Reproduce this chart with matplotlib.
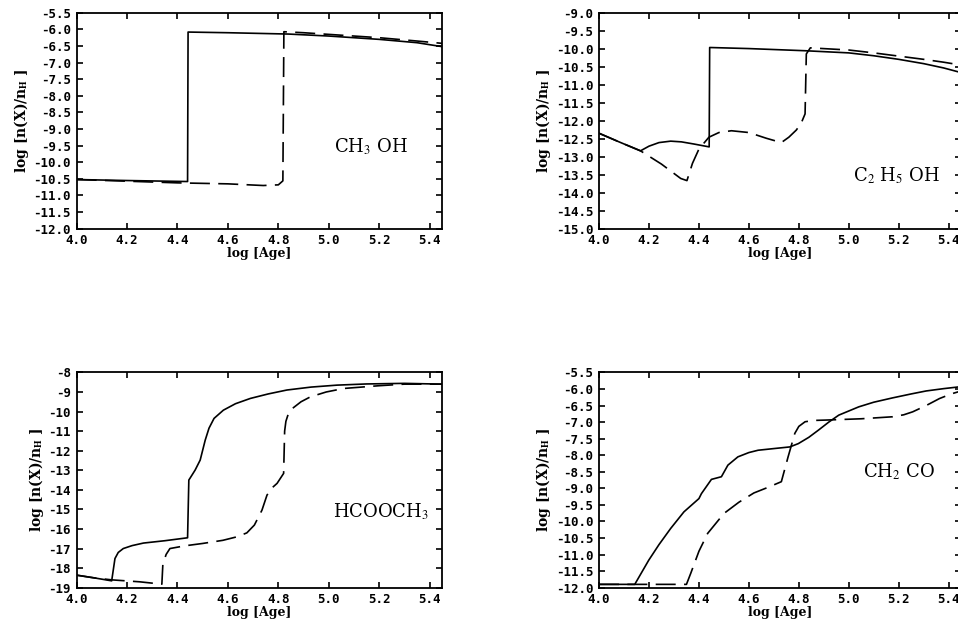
import numpy as np
import matplotlib
matplotlib.use('Agg')
import matplotlib.pyplot as plt
from matplotlib.ticker import FormatStrFormatter, MultipleLocator

# CH3 OH
ch3oh_x_sol = [4.0, 4.2, 4.44, 4.442, 4.6, 4.84, 5.0, 5.2, 5.35, 5.45]
ch3oh_y_sol = [-10.52, -10.55, -10.58, -6.08, -6.1, -6.14, -6.2, -6.3, -6.4, -6.52]
ch3oh_x_das = [4.0, 4.2, 4.4, 4.6, 4.74, 4.8, 4.818, 4.822, 4.9, 5.0, 5.2, 5.35, 5.45]
ch3oh_y_das = [-10.52, -10.57, -10.62, -10.65, -10.70, -10.68, -10.56, -6.07, -6.1, -6.15, -6.25, -6.35, -6.42]

# C2 H5 OH
c2h5oh_x_sol = [4.0, 4.08, 4.166, 4.2, 4.24, 4.287, 4.33, 4.38, 4.441, 4.443, 4.6, 4.825, 5.0, 5.1, 5.2, 5.3, 5.38,
                5.45]
c2h5oh_y_sol = [-12.34, -12.58, -12.83, -12.7, -12.6, -12.56, -12.58, -12.64, -12.72, -9.95, -9.98, -10.04, -10.1,
                -10.18, -10.28, -10.4, -10.52, -10.65]
c2h5oh_x_das = [4.0, 4.08, 4.166, 4.25, 4.327, 4.352, 4.374, 4.40, 4.44, 4.48, 4.53, 4.6, 4.67, 4.73, 4.76, 4.79,
                4.81, 4.825, 4.83, 4.846, 5.0, 5.1, 5.2, 5.3, 5.38, 5.45]
c2h5oh_y_das = [-12.34, -12.58, -12.83, -13.2, -13.6, -13.66, -13.18, -12.78, -12.45, -12.32, -12.27, -12.32, -12.48,
                -12.6, -12.45, -12.25, -12.05, -11.8, -10.13, -9.96, -10.02, -10.1, -10.19, -10.28, -10.36, -10.44]

# HCOOCH3
hcooch3_x_sol = [4.0, 4.07, 4.139, 4.152, 4.165, 4.185, 4.22, 4.265, 4.35, 4.44, 4.445, 4.45, 4.47, 4.49, 4.51,
                 4.525, 4.545, 4.582, 4.63, 4.689, 4.76, 4.834, 4.93, 5.033, 5.15, 5.3, 5.45]
hcooch3_y_sol = [-18.36, -18.5, -18.65, -17.51, -17.2, -17.0, -16.85, -16.72, -16.6, -16.45, -13.5, -13.4, -12.99,
                 -12.48, -11.46, -10.85, -10.35, -9.93, -9.6, -9.33, -9.1, -8.9, -8.75, -8.65, -8.59, -8.56, -8.6]
hcooch3_x_das = [4.0, 4.07, 4.139, 4.25, 4.338, 4.342, 4.355, 4.37, 4.43, 4.5, 4.58, 4.636, 4.675, 4.705, 4.735,
                 4.755, 4.775, 4.795, 4.821, 4.825, 4.83, 4.84, 4.86, 4.89, 4.927, 4.99, 5.06, 5.2, 5.3, 5.45]
hcooch3_y_das = [-18.36, -18.5, -18.6, -18.7, -18.82, -17.8, -17.3, -17.0, -16.86, -16.74, -16.58, -16.4, -16.2,
                 -15.8, -15.04, -14.27, -13.9, -13.67, -13.16, -11.0, -10.5, -10.1, -9.8, -9.5, -9.25, -9.0, -8.82,
                 -8.68, -8.6, -8.6]

# CH2 CO
ch2co_x_sol = [4.0, 4.143, 4.199, 4.24, 4.287, 4.34, 4.40, 4.41, 4.45, 4.49, 4.516, 4.556, 4.6, 4.637, 4.7, 4.764,
               4.798, 4.84, 4.879, 4.92, 4.96, 5.04, 5.1, 5.175, 5.25, 5.31, 5.38, 5.45]
ch2co_y_sol = [-11.9, -11.9, -11.17, -10.7, -10.21, -9.71, -9.31, -9.16, -8.73, -8.65, -8.30, -8.05, -7.92, -7.85,
               -7.8, -7.75, -7.65, -7.46, -7.24, -7.0, -6.79, -6.54, -6.4, -6.27, -6.15, -6.06, -5.99, -5.93]
ch2co_x_das = [4.0, 4.35, 4.367, 4.40, 4.435, 4.50, 4.56, 4.62, 4.68, 4.73, 4.757, 4.784, 4.8, 4.825, 4.86, 4.905,
               5.05, 5.175, 5.22, 5.256, 5.31, 5.363, 5.41, 5.45]
ch2co_y_das = [-11.9, -11.9, -11.57, -10.9, -10.36, -9.76, -9.42, -9.14, -8.96, -8.80, -8.05, -7.34, -7.13, -6.99,
               -6.95, -6.94, -6.9, -6.84, -6.78, -6.69, -6.5, -6.29, -6.15, -6.06]

panels = [
    dict(pos=[0.080, 0.6335, 0.3816, 0.346], ylim=(-12.0, -5.5), step=0.5, fmt='%.1f',
         sol=(ch3oh_x_sol, ch3oh_y_sol), das=(ch3oh_x_das, ch3oh_y_das),
         name=r'CH$_3$ OH', tx=0.705, ty=0.38),
    dict(pos=[0.6253, 0.6335, 0.378, 0.345], ylim=(-15.0, -9.0), step=0.5, fmt='%.1f',
         sol=(c2h5oh_x_sol, c2h5oh_y_sol), das=(c2h5oh_x_das, c2h5oh_y_das),
         name=r'C$_2$ H$_5$ OH', tx=0.70, ty=0.245),
    dict(pos=[0.080, 0.0582, 0.3816, 0.345], ylim=(-19, -8), step=1, fmt='%d',
         sol=(hcooch3_x_sol, hcooch3_y_sol), das=(hcooch3_x_das, hcooch3_y_das),
         name=r'HCOOCH$_3$', tx=0.70, ty=0.353),
    dict(pos=[0.6253, 0.0582, 0.378, 0.345], ylim=(-12.0, -5.5), step=0.5, fmt='%.1f',
         sol=(ch2co_x_sol, ch2co_y_sol), das=(ch2co_x_das, ch2co_y_das),
         name=r'CH$_2$ CO', tx=0.73, ty=0.54),
]

plt.rcParams['mathtext.fontset'] = 'stix'

fig = plt.figure(figsize=(9.58, 6.24), dpi=100)

for p in panels:
    ax = fig.add_axes(p['pos'])
    ax.plot(*p['sol'], color='black', lw=1.2, solid_joinstyle='round')
    ax.plot(*p['das'], color='black', lw=1.2, dashes=(12, 5))
    ax.set_xlim(4.0, 5.45)
    ax.set_ylim(*p['ylim'])
    ax.xaxis.set_major_locator(MultipleLocator(0.2))
    ax.yaxis.set_major_locator(MultipleLocator(p['step']))
    ax.xaxis.set_major_formatter(FormatStrFormatter('%.1f'))
    ax.yaxis.set_major_formatter(FormatStrFormatter(p['fmt']))
    ax.tick_params(direction='in', top=True, right=True, length=4, width=1.2, pad=4)
    for lab in ax.get_xticklabels() + ax.get_yticklabels():
        lab.set_family('DejaVu Sans Mono')
        lab.set_fontweight('bold')
        lab.set_fontsize(9)
    for s in ax.spines.values():
        s.set_linewidth(1.3)
    ax.set_xlabel('log [Age]', family='DejaVu Serif', fontweight='bold', fontsize=9, labelpad=0)
    ax.set_ylabel(r'log [n(X)/n$_\mathbf{H}$ ]', family='DejaVu Serif', fontweight='bold', fontsize=10,
                  labelpad=2)
    ax.text(p['tx'], p['ty'], p['name'], transform=ax.transAxes, family='DejaVu Serif',
            fontsize=13, va='center', ha='left')

fig.savefig('out.png', dpi=100)
